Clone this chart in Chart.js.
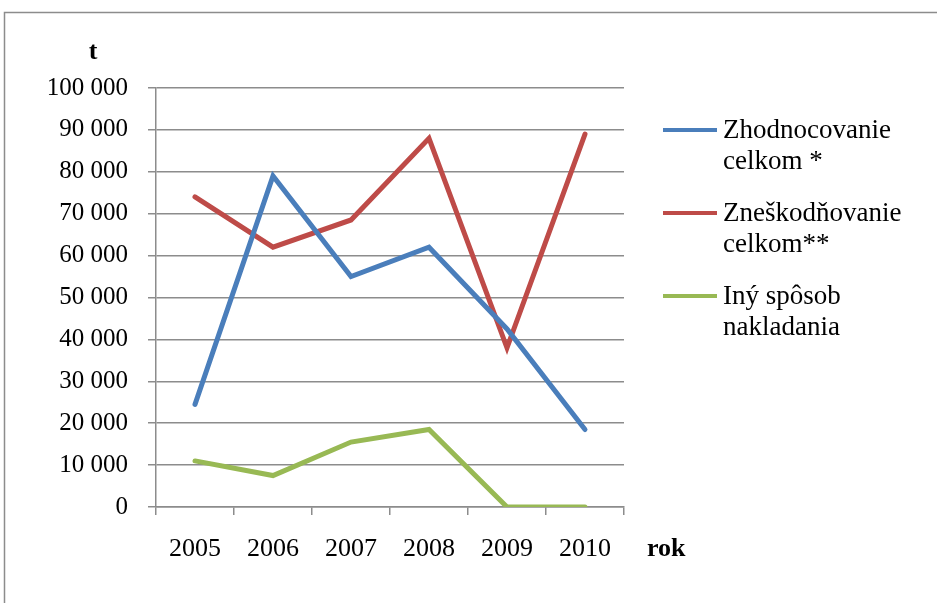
<!DOCTYPE html>
<html>
<head>
<meta charset="utf-8">
<script src="https://cdn.jsdelivr.net/npm/chart.js@4/dist/chart.umd.min.js"></script>
<style>
  html, body { margin: 0; padding: 0; background: #fff; overflow: hidden; }
  #wrap { position: relative; width: 937px; height: 603px; }
</style>
</head>
<body>
<div id="wrap"><canvas id="c" width="937" height="603"></canvas></div>
<script>
const years          = ['2005', '2006', '2007', '2008', '2009', '2010'];
const zhodnocovanie  = [24500, 79000, 55000, 62000, 42500, 18500];
const zneskodnovanie = [74000, 62000, 68500, 88000, 38000, 89000];
const inySposob      = [11000, 7500, 15500, 18500, 0, 0];
const seriesNames    = [['Zhodnocovanie', 'celkom *'], ['Zneškodňovanie', 'celkom**'], ['Iný spôsob', 'nakladania']];
const seriesColors   = ['#4a7ebb', '#be4b48', '#98b954'];

const FONT = '"Liberation Serif", serif';
const GRID = '#8c8c8c';

const fmt = v => String(v).replace(/\B(?=(\d{3})+(?!\d))/g, ' ');

// frame, axis titles and a two-line legend drawn by hand
const decor = {
  id: 'decor',
  beforeDraw(chart) {
    const ctx = chart.ctx;
    ctx.save();
    ctx.strokeStyle = GRID;
    ctx.lineWidth = 1.5;
    ctx.strokeRect(4.5, 12.5, 1000, 1000);
    ctx.restore();
  },
  afterDraw(chart) {
    const ctx = chart.ctx;
    ctx.save();
    ctx.fillStyle = '#000';
    ctx.textBaseline = 'middle';
    ctx.font = 'bold 26px ' + FONT;
    ctx.textAlign = 'center';
    ctx.fillText('t', 93, 52);
    ctx.textAlign = 'left';
    ctx.fillText('rok', 647, 549);

    const rows = [130, 213, 296];
    ctx.font = '27px ' + FONT;
    chart.data.datasets.forEach((ds, i) => {
      const y = rows[i];
      ctx.strokeStyle = ds.borderColor;
      ctx.lineWidth = 4;
      ctx.beginPath();
      ctx.moveTo(663, y);
      ctx.lineTo(717, y);
      ctx.stroke();
      ds.label.forEach((line, k) => ctx.fillText(line, 723, y + 1 + k * 31));
    });
    ctx.restore();
  }
};

new Chart(document.getElementById('c'), {
  type: 'line',
  data: {
    labels: years,
    datasets: [zhodnocovanie, zneskodnovanie, inySposob].map((d, i) => ({
      label: seriesNames[i],
      data: d,
      borderColor: seriesColors[i],
      backgroundColor: seriesColors[i],
      borderWidth: 5,
      pointRadius: 0,
      borderCapStyle: 'round',
      tension: 0
    }))
  },
  options: {
    responsive: false,
    animation: false,
    events: [],
    layout: { padding: { top: 88, right: 313, bottom: 0, left: 0 } },
    plugins: { legend: { display: false }, tooltip: { enabled: false } },
    scales: {
      x: {
        offset: true,
        grid: { offset: true, drawOnChartArea: false, tickLength: 8, color: GRID, lineWidth: 1.5 },
        border: { color: GRID, width: 1.5 },
        ticks: { color: '#000', font: { family: FONT, size: 26 }, padding: 19, maxRotation: 0 },
        afterFit: s => { s.height = 96; }
      },
      y: {
        min: 0, max: 100000,
        grid: { color: GRID, lineWidth: 1.5, tickLength: 8 },
        border: { color: GRID, width: 1.5 },
        ticks: { stepSize: 10000, color: '#000', font: { family: FONT, size: 25 }, padding: 20, callback: fmt },
        afterFit: s => { s.width = 156; }
      }
    }
  },
  plugins: [decor]
});
</script>
</body>
</html>
